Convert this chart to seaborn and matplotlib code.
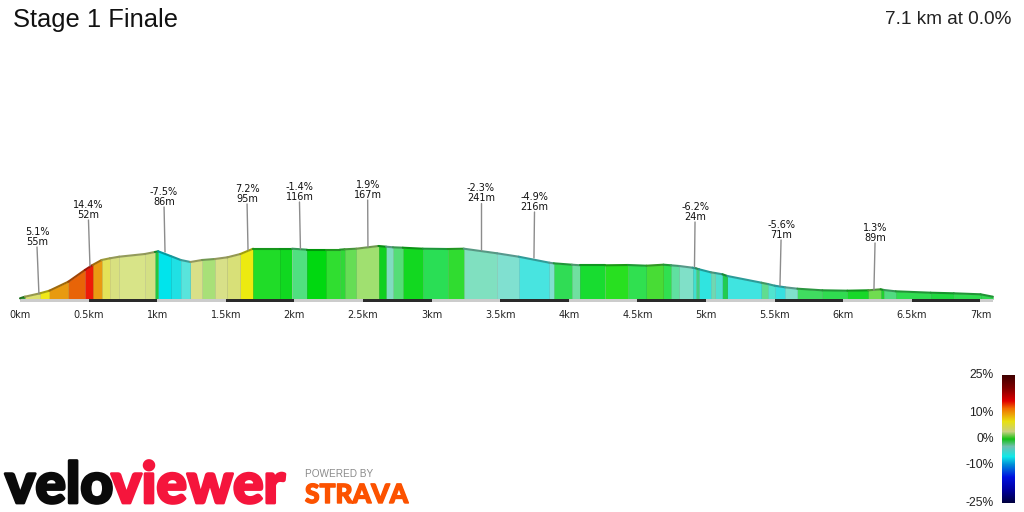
import numpy as np
import pandas as pd
import matplotlib
matplotlib.use('Agg')
import matplotlib.pyplot as plt
import matplotlib.patheffects as pe
import seaborn as sns
from matplotlib.colors import LinearSegmentedColormap, to_rgb

# profile: km along the route, height above the base line
dist_km = [0, .036, .146, .214, .352, .473, .529, .595, .655, .723, .910, .983, 1.007, 1.097, 1.172, 1.242,
           1.327, 1.420, 1.512, 1.606, 1.699, 1.893, 1.983, 2.092, 2.228, 2.330, 2.366, 2.451, 2.613, 2.669,
           2.718, 2.790, 2.936, 3.118, 3.235, 3.477, 3.635, 3.858, 3.890, 4.023, 4.084, 4.263, 4.431, 4.566,
           4.690, 4.746, 4.805, 4.902, 4.926, 4.950, 5.035, 5.067, 5.120, 5.156, 5.404, 5.450, 5.501, 5.576,
           5.666, 5.848, 6.030, 6.183, 6.273, 6.297, 6.382, 6.637, 6.806, 7.001, 7.091]
height = [0.7, 2.3, 5.7, 8.3, 17.3, 29, 34, 39, 40.7, 42.3, 45, 47, 47.7, 43, 39, 37,
          39, 40, 41.7, 45, 50.3, 50.3, 50.3, 49.3, 49.3, 49.3, 49.7, 50.3, 53, 52.3,
          51.7, 51.3, 50.3, 50, 50.3, 45.7, 42.3, 36.3, 35.7, 34.3, 33.7, 33.7, 34, 33.3,
          34.3, 33.7, 33, 31.3, 30.7, 29.7, 26.7, 26, 24.7, 23, 16.3, 15, 13.3, 11.7,
          10.3, 8.7, 8.3, 8.7, 9.7, 9, 7.7, 6.3, 5.7, 4.7, 2.3]
seg_colors = ['#2fa82f', '#dce070', '#f0e818', '#e89a10', '#e86408', '#ee1a08', '#ea9a12', '#e4e258',
              '#d8e080', '#d8e488', '#d4e084', '#20c840', '#00e4ec', '#20e0e4', '#58e4dc', '#d8e088',
              '#a8e078', '#d8e088', '#d8e078', '#ecea10', '#20dc28', '#10d820', '#50e080', '#00d810',
              '#30de30', '#30d838', '#66dd55', '#a0e070', '#10d020', '#80dcc0', '#55dd77', '#12d820',
              '#2ade55', '#30dc30', '#80e0c0', '#80e0d0', '#48e4e0', '#80e0d0', '#30dc55', '#70e0a0',
              '#18dc30', '#28e020', '#30e050', '#48dc35', '#30e050', '#60e0a0', '#80e0c8', '#40e0d0',
              '#40d080', '#30e4e0', '#70d8b0', '#50e0d0', '#20cc50', '#40e4e0', '#60dc90', '#50e4d0',
              '#38e0e0', '#80e0cc', '#40dc60', '#30dc50', '#18d828', '#70dc50', '#20d030', '#50dc80',
              '#30dc50', '#20d840', '#30dc50', '#30d850']

# callouts
grade_labels = ['5.1%', '14.4%', '-7.5%', '7.2%', '-1.4%', '1.9%', '-2.3%', '-4.9%', '-6.2%', '-5.6%', '1.3%']
elev_labels = ['55m', '52m', '86m', '95m', '116m', '167m', '241m', '216m', '24m', '71m', '89m']
callout_km_low = [.138, .510, 1.057, 1.662, 2.044, 2.536, 3.360, 3.746, 4.916, 5.539, 6.224]
callout_km_top = [.124, .499, 1.050, 1.655, 2.037, 2.534, 3.360, 3.750, 4.920, 5.547, 6.232]
callout_low = [5, 33, 47, 49, 50, 52, 49, 41, 32, 13, 9]
callout_top = [52, 79, 92, 95, 97, 99, 96, 87, 77, 59, 56]

km_ticks = [0, .5, 1, 1.5, 2, 2.5, 3, 3.5, 4, 4.5, 5, 5.5, 6, 6.5, 7]
km_labels = ['0km', '0.5km', '1km', '1.5km', '2km', '2.5km', '3km', '3.5km', '4km', '4.5km', '5km', '5.5km',
             '6km', '6.5km', '7km']

# gradient legend
grade_ticks = [25, 10, 0, -10, -25]
grade_tick_labels = ['25%', '10%', '0%', '-10%', '-25%']
grade_stops = [-25, -20, -15, -10, -7, -3, 0, 3, 7, 12, 15, 20, 25]
grade_stop_colors = ['#000040', '#0000a0', '#0010e0', '#0090d8', '#10e8e8', '#70c0b0', '#10c010',
                     '#c8d080', '#e8e010', '#f07000', '#e00000', '#800000', '#400000']


def px_x(p):
    return p / 1024


def px_y(p):
    return 1 - p / 512


sns.set_theme(style='white')
plt.rcParams['font.family'] = ['DejaVu Sans']

fig = plt.figure(figsize=(10.24, 5.12), dpi=100)

# main profile, axes runs from the top of the picture down to the km stripes
ax = fig.add_axes([0, px_y(302), 1, 302 / 512])
ax.set_xlim(-20 / 137.2, (1024 - 20) / 137.2)
ax.set_ylim(-3, 299)
ax.patch.set_alpha(0)
sns.despine(ax=ax, left=True, bottom=True)

for i, c in enumerate(seg_colors):
    x = dist_km[i:i + 2]
    y = height[i:i + 2]
    ax.fill_between(x, 0, y, color=c, lw=0, zorder=2)
    dark = tuple(v * 0.72 for v in to_rgb(c))
    ax.plot([x[1], x[1]], [0, y[1]], color=dark, lw=0.4, alpha=0.6, zorder=3)

# top edge, darker shade of each segment
rows = []
for i in range(len(seg_colors)):
    rows.append((i, dist_km[i], height[i]))
    rows.append((i, dist_km[i + 1], height[i + 1]))
top_df = pd.DataFrame(rows, columns=['seg', 'km', 'h'])
dark_pal = {i: tuple(v * 0.68 for v in to_rgb(c)) for i, c in enumerate(seg_colors)}
sns.lineplot(data=top_df, x='km', y='h', hue='seg', palette=dark_pal, estimator=None, sort=False,
             legend=False, lw=1.5, ax=ax, zorder=4)

# km stripes under the profile
for i, k in enumerate(km_ticks):
    end = km_ticks[i + 1] if i + 1 < len(km_ticks) else dist_km[-1]
    ax.barh(-1, end - k, left=k, height=3, color='#2a2a2a' if i % 2 else '#cccccc', lw=0, zorder=3)

for lo_k, top_k, lo, top, g, e in zip(callout_km_low, callout_km_top, callout_low, callout_top,
                                      grade_labels, elev_labels):
    ax.plot([lo_k, top_k], [lo, top], color='#8c8c8c', lw=1, zorder=5)
    ax.text(top_k, top, g + '\n' + e, ha='center', va='bottom', fontsize=7, color='#111111',
            linespacing=1.05, zorder=6)

ax.set_xticks(km_ticks)
ax.set_xticklabels(km_labels, fontsize=7, color='#222222')
ax.set_yticks([])
ax.set_xlabel('')
ax.set_ylabel('')
ax.tick_params(axis='x', length=0, pad=5.7)

# gradient legend
cax = fig.add_axes([px_x(1002), px_y(503), 13 / 1024, 128 / 512])
grade_cmap = LinearSegmentedColormap.from_list(
    'grade', [((s + 25) / 50, c) for s, c in zip(grade_stops, grade_stop_colors)])
scale = np.linspace(25, -25, 128).reshape(-1, 1)
sns.heatmap(scale, cmap=grade_cmap, vmin=-25, vmax=25, cbar=False, ax=cax, xticklabels=False)
cax.set_yticks([(25 - g) / 50 * 128 for g in grade_ticks])
cax.set_yticklabels(grade_tick_labels, rotation=0, fontsize=8.7, family='Liberation Sans', color='#222222')
cax.tick_params(axis='y', length=0, pad=6)

# header
fig.text(px_x(13), px_y(20), 'Stage 1 Finale', fontsize=18.4, family='Liberation Sans', color='#111111',
         ha='left', va='center')
fig.text(px_x(1011), px_y(19), '7.1 km at 0.0%', fontsize=13.7, family='Liberation Sans', color='#222222',
         ha='right', va='center')

# logos, as text
heavy_black = [pe.withStroke(linewidth=2, foreground='#0a0a0a')]
heavy_red = [pe.withStroke(linewidth=2, foreground='#f5153c')]
heavy_orange = [pe.withStroke(linewidth=1, foreground='#fc5200')]
fig.text(px_x(5), px_y(503), 'velo', fontsize=41, family='Lato', weight='black', color='#0a0a0a',
         ha='left', va='baseline', path_effects=heavy_black)
fig.text(px_x(285), px_y(503), 'viewer', fontsize=41, family='Lato', weight='black', color='#f5153c',
         ha='right', va='baseline', path_effects=heavy_red)
fig.text(px_x(305), px_y(477), 'POWERED BY', fontsize=7.2, family='Liberation Sans', color='#8c8c8c',
         ha='left', va='baseline')
fig.text(px_x(305), px_y(503), 'STRAVA', fontsize=19, family='Lato', weight='black', color='#fc5200',
         ha='left', va='baseline', path_effects=heavy_orange)

fig.savefig('out.png', dpi=100, facecolor='white')
